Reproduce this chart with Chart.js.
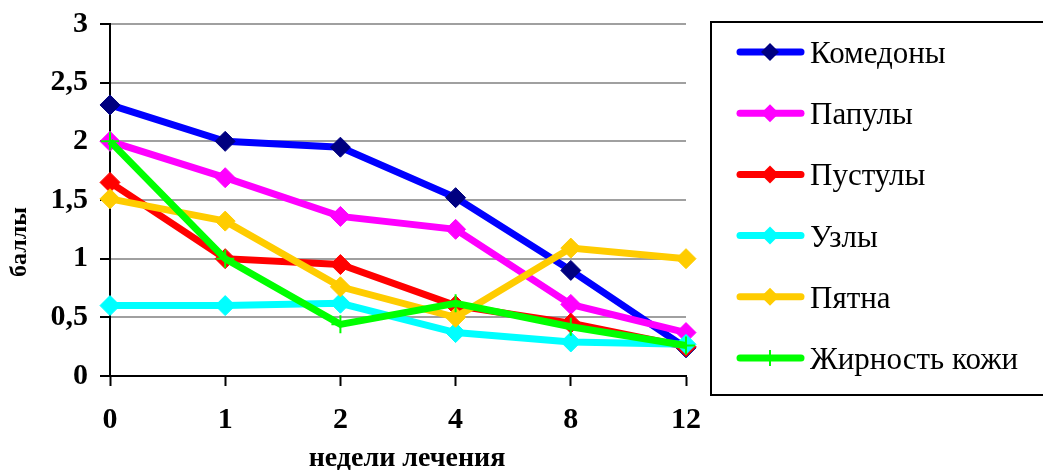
<!DOCTYPE html>
<html>
<head>
<meta charset="utf-8">
<script src="https://cdn.jsdelivr.net/npm/chart.js@4"></script>
<style>
  html, body { margin: 0; padding: 0; background: #fff; }
  #wrap { width: 1043px; height: 470px; }
</style>
</head>
<body>
<div id="wrap"><canvas id="chart" width="1043" height="470"></canvas></div>
<script>
const weeks = ['0', '1', '2', '4', '8', '12'];

const komedony = [2.31, 2.0, 1.95, 1.52, 0.90, 0.24];
const papuly = [2.0, 1.69, 1.36, 1.25, 0.61, 0.37];
const pustuly = [1.65, 1.0, 0.95, 0.60, 0.45, 0.25];
const uzly = [0.60, 0.60, 0.62, 0.37, 0.29, 0.27];
const pyatna = [1.51, 1.32, 0.76, 0.50, 1.09, 1.0];
const zhirnost = [2.0, 1.0, 0.44, 0.62, 0.42, 0.26];

const seriesNames = ['Комедоны', 'Папулы', 'Пустулы', 'Узлы', 'Пятна', 'Жирность кожи'];
const lineColors = ['#0000FF', '#FF00FF', '#FF0000', '#00FFFF', '#FFCC00', '#00FF00'];
const markColors = ['#000080', '#FF00FF', '#FF0000', '#00FFFF', '#FFCC00', '#00FF00'];

const FONT = '"Liberation Serif", "Times New Roman", serif';

function makeSet(i, values) {
        const isCross = i === 5;
        return {
                label: seriesNames[i],
                data: values,
                borderColor: lineColors[i],
                backgroundColor: markColors[i],
                borderWidth: 7,
                pointStyle: isCross ? 'cross' : 'rectRot',
                pointRadius: isCross ? 9 : 10,
                pointBackgroundColor: markColors[i],
                pointBorderColor: markColors[i],
                pointBorderWidth: isCross ? 2 : 1,
                tension: 0,
                order: 5 - i
        };
}

const datasets = [komedony, papuly, pustuly, uzly, pyatna, zhirnost].map((v, i) => makeSet(i, v));

// legend box and axis titles
const extras = {
        id: 'extras',
        afterDraw(chart) {
                const ctx = chart.ctx;
                ctx.save();
                ctx.strokeStyle = '#000';
                ctx.lineWidth = 2;
                ctx.strokeRect(711, 22, 400, 373);

                chart.data.datasets.forEach((ds, i) => {
                        const base = 63 + i * 61.2;
                        const y = base - 11;
                        ctx.strokeStyle = ds.borderColor;
                        ctx.lineWidth = 7;
                        ctx.lineCap = 'round';
                        ctx.beginPath();
                        ctx.moveTo(740, y);
                        ctx.lineTo(801, y);
                        ctx.stroke();
                        if (ds.pointStyle === 'cross') {
                                ctx.strokeStyle = ds.pointBorderColor;
                                ctx.lineWidth = 2;
                                ctx.lineCap = 'butt';
                                ctx.beginPath();
                                ctx.moveTo(770, y - 8);
                                ctx.lineTo(770, y + 8);
                                ctx.stroke();
                        } else {
                                ctx.fillStyle = ds.pointBackgroundColor;
                                ctx.beginPath();
                                ctx.moveTo(770, y - 9);
                                ctx.lineTo(779, y);
                                ctx.lineTo(770, y + 9);
                                ctx.lineTo(761, y);
                                ctx.closePath();
                                ctx.fill();
                        }
                        ctx.fillStyle = '#000';
                        ctx.font = '31px ' + FONT;
                        ctx.textAlign = 'left';
                        ctx.textBaseline = 'alphabetic';
                        ctx.fillText(ds.label, 810, base);
                });

                ctx.fillStyle = '#000';
                ctx.font = 'bold 28px ' + FONT;
                ctx.textAlign = 'center';
                ctx.textBaseline = 'alphabetic';
                ctx.fillText('недели лечения', 407, 466);

                ctx.translate(26, 242);
                ctx.rotate(-Math.PI / 2);
                ctx.font = 'bold 24px ' + FONT;
                ctx.fillText('баллы', 0, 0);
                ctx.restore();
        }
};

new Chart(document.getElementById('chart').getContext('2d'), {
        type: 'line',
        data: { labels: weeks, datasets: datasets },
        options: {
                responsive: false,
                animation: false,
                layout: { padding: { left: 10, right: 357, top: 24, bottom: 0 } },
                plugins: { legend: { display: false }, tooltip: { enabled: false } },
                scales: {
                        x: {
                                offset: false,
                                afterFit(scale) { scale.height = 94; },
                                border: { color: '#000', width: 2 },
                                grid: { drawOnChartArea: false, drawTicks: true, tickLength: 10, tickColor: '#000', tickWidth: 2 },
                                ticks: { color: '#000', padding: 16, font: { family: FONT, size: 30, weight: 'bold' } }
                        },
                        y: {
                                min: 0,
                                max: 3,
                                afterFit(scale) { scale.width = 100; },
                                border: { color: '#000', width: 2 },
                                grid: { color: '#A0A0A0', lineWidth: 2, tickLength: 10, tickColor: '#000', tickWidth: 2 },
                                ticks: {
                                        stepSize: 0.5,
                                        color: '#000',
                                        padding: 12,
                                        font: { family: FONT, size: 30, weight: 'bold', lineHeight: 0.8 },
                                        callback: v => String(v).replace('.', ',')
                                }
                        }
                }
        },
        plugins: [extras]
});
</script>
</body>
</html>
